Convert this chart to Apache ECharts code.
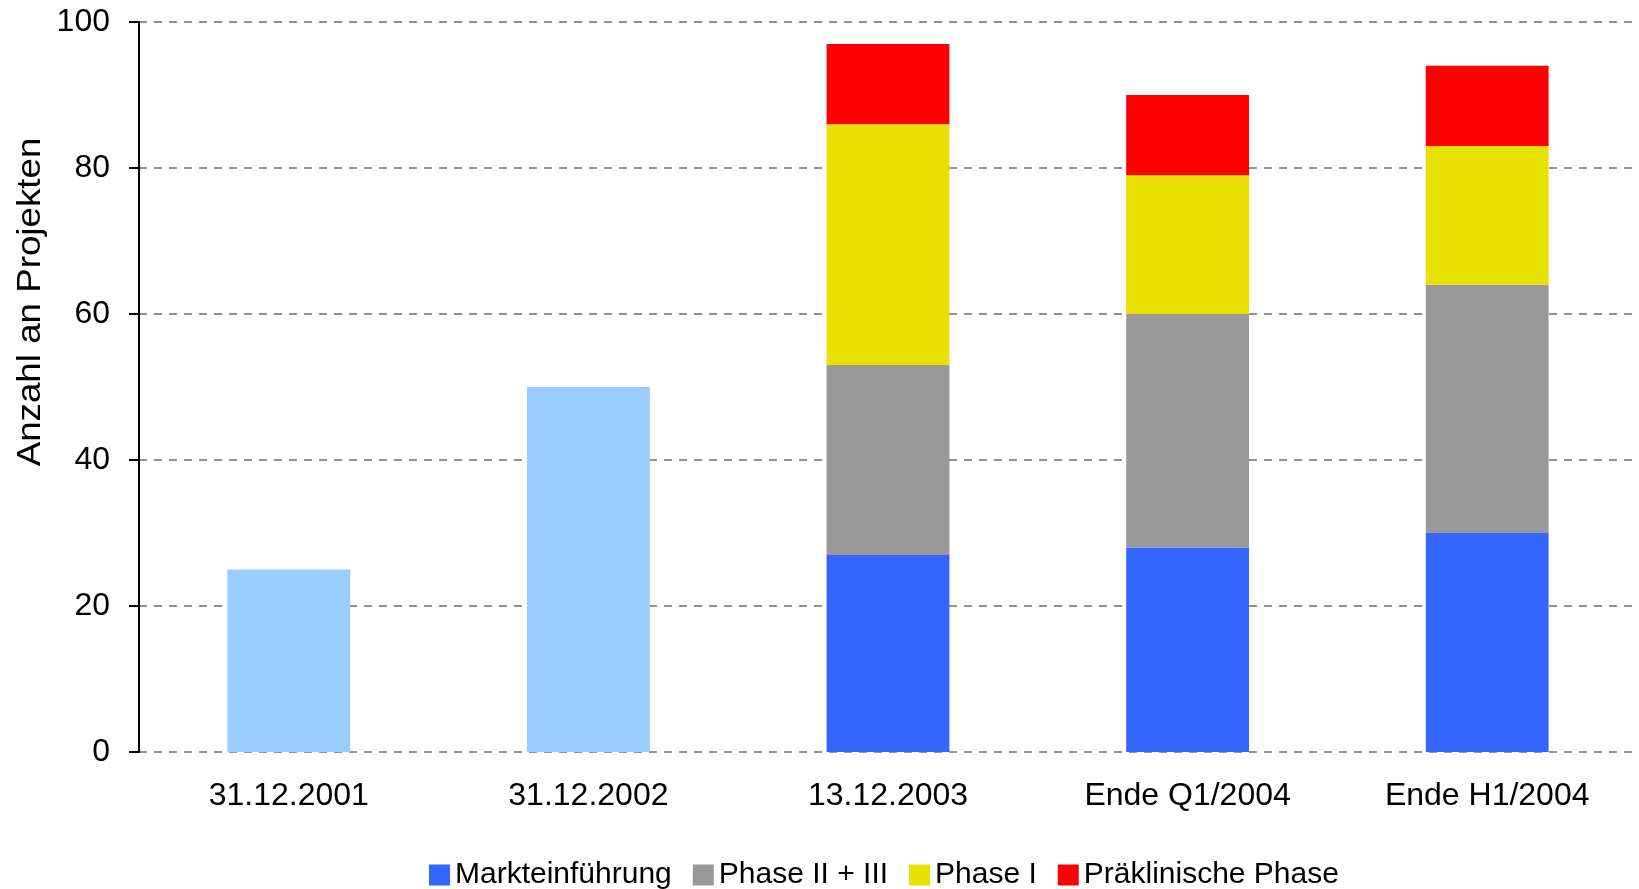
<!DOCTYPE html>
<html>
<head>
<meta charset="utf-8">
<script src="https://cdn.jsdelivr.net/npm/echarts@6/dist/echarts.min.js"></script>
<style>
html,body{margin:0;padding:0;background:#fff;}
#chart{width:1639px;height:889px;}
</style>
</head>
<body>
<div id="chart"></div>
<script>
const categories = ['31.12.2001', '31.12.2002', '13.12.2003', 'Ende Q1/2004', 'Ende H1/2004'];
const gesamt = [25, 50, '-', '-', '-'];
const markteinfuehrung = ['-', '-', 27, 28, 30];
const phase23 = ['-', '-', 26, 32, 34];
const phase1 = ['-', '-', 33, 19, 19];
const praeklinisch = ['-', '-', 11, 11, 11];
const yTitle = 'Anzahl an Projekten';

const FONT = '"Liberation Sans", Arial, sans-serif';
const chart = echarts.init(document.getElementById('chart'));
function bar(name, data, color) {
  return { name, type: 'bar', stack: 'a', data, barCategoryGap: '59%',
    itemStyle: { color }, emphasis: { disabled: true } };
}
chart.setOption({
  animation: false,
  backgroundColor: '#fff',
  textStyle: { fontFamily: FONT },
  grid: { left: 139, right: 2, top: 22, bottom: 137, containLabel: false },
  xAxis: {
    type: 'category', data: categories,
    axisLine: { show: false }, axisTick: { show: false },
    axisLabel: { fontSize: 32, color: '#000', fontFamily: FONT, margin: 28, interval: 0 }
  },
  yAxis: {
    type: 'value', min: 0, max: 100, interval: 20,
    axisLine: { show: true, lineStyle: { color: '#000', width: 2 } },
    axisTick: { show: true, length: 10, lineStyle: { color: '#000', width: 2 } },
    axisLabel: { fontSize: 32, color: '#000', fontFamily: FONT, margin: 29 },
    splitLine: { show: true, lineStyle: { color: '#707070', width: 1.5, type: [8, 7] } }
  },
  legend: {
    data: ['Markteinführung', 'Phase II + III', 'Phase I', 'Präklinische Phase'],
    top: 855, left: 424, icon: 'rect', itemWidth: 21, itemHeight: 21, itemGap: 21,
    textStyle: { fontSize: 30, color: '#000', fontFamily: FONT }
  },
  graphic: [{
    type: 'text', x: 31, y: 302, rotation: Math.PI / 2, scaleX: 1.08,
    style: { text: yTitle, font: '34px "Liberation Sans", Arial, sans-serif', fill: '#000',
      textAlign: 'center', textVerticalAlign: 'middle', align: 'center', verticalAlign: 'middle' }
  }],
  series: [
    bar('Gesamt', gesamt, '#99CCFF'),
    bar('Markteinführung', markteinfuehrung, '#3366FF'),
    bar('Phase II + III', phase23, '#999999'),
    bar('Phase I', phase1, '#E8E000'),
    bar('Präklinische Phase', praeklinisch, '#FF0000')
  ]
});
</script>
</body>
</html>
